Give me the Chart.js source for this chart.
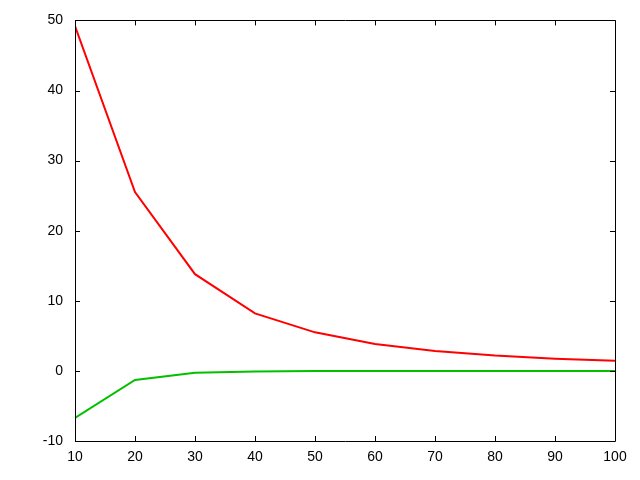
<!DOCTYPE html>
<html>
<head>
<meta charset="utf-8">
<script src="https://cdn.jsdelivr.net/npm/chart.js@4"></script>
<style>
  html, body { margin: 0; padding: 0; background: #fff; }
</style>
</head>
<body>
<canvas id="myChart" width="640" height="480"></canvas>
<script>
// valores
const xValues = [10, 20, 30, 40, 50, 60, 70, 80, 90, 100];
const redValues = [49.2, 25.5, 13.8, 8.2, 5.5, 3.85, 2.85, 2.2, 1.75, 1.45];
const greenValues = [-6.7, -1.3, -0.25, -0.1, 0, 0, 0, 0, 0, 0];
const xTicks = [10, 20, 30, 40, 50, 60, 70, 80, 90, 100];
const yTicks = [-10, 0, 10, 20, 30, 40, 50];

const toPoints = (ys) => xValues.map((x, i) => ({ x: x, y: ys[i] }));

// marco y ticks hacia adentro (estilo gnuplot), con espejo arriba y derecha
const frame = {
    id: 'frame',
    afterDatasetsDraw(chart) {
        const c = chart.ctx;
        const a = chart.chartArea;
        const sx = chart.scales.x, sy = chart.scales.y;
        const len = 5;
        c.save();
        c.strokeStyle = '#000';
        c.lineWidth = 1;
        c.beginPath();
        c.rect(Math.round(a.left) + 0.5, Math.round(a.top) + 0.5,
               Math.round(a.right - a.left), Math.round(a.bottom - a.top));
        xTicks.forEach(v => {
            const px = Math.round(sx.getPixelForValue(v)) + 0.5;
            c.moveTo(px, a.bottom); c.lineTo(px, a.bottom - len);
            c.moveTo(px, a.top); c.lineTo(px, a.top + len);
        });
        yTicks.forEach(v => {
            const py = Math.round(sy.getPixelForValue(v)) + 0.5;
            c.moveTo(a.left, py); c.lineTo(a.left + len, py);
            c.moveTo(a.right, py); c.lineTo(a.right - len, py);
        });
        c.stroke();
        c.restore();
    }
};

const ctx = document.getElementById('myChart');

new Chart(ctx, {
    type: 'line',
    data: {
        datasets: [{
            data: toPoints(redValues),
            borderColor: '#ff0000',
            borderWidth: 2,
            pointRadius: 0,
            tension: 0
        }, {
            data: toPoints(greenValues),
            borderColor: '#00c000',
            borderWidth: 2,
            pointRadius: 0,
            tension: 0
        }]
    },
    options: {
        responsive: false,
        animation: false,
        layout: { padding: { top: 19, right: 25, left: 0, bottom: 0 } },
        plugins: {
            legend: { display: false },
            tooltip: { enabled: false }
        },
        scales: {
            x: {
                type: 'linear',
                min: 10,
                max: 100,
                afterBuildTicks: (s) => { s.ticks = xTicks.map(v => ({ value: v })); },
                afterFit: (s) => { s.height = 39; },
                grid: { display: false, drawTicks: false },
                border: { display: false },
                ticks: {
                    padding: 8,
                    color: '#000',
                    maxRotation: 0,
                    font: { family: 'Liberation Sans', size: 14 }
                }
            },
            y: {
                min: -10,
                max: 50,
                afterBuildTicks: (s) => { s.ticks = yTicks.map(v => ({ value: v })); },
                afterFit: (s) => { s.width = 75; },
                grid: { display: false, drawTicks: false },
                border: { display: false },
                ticks: {
                    padding: 12,
                    color: '#000',
                    font: { family: 'Liberation Sans', size: 14 }
                }
            }
        }
    },
    plugins: [frame]
});
</script>
</body>
</html>
